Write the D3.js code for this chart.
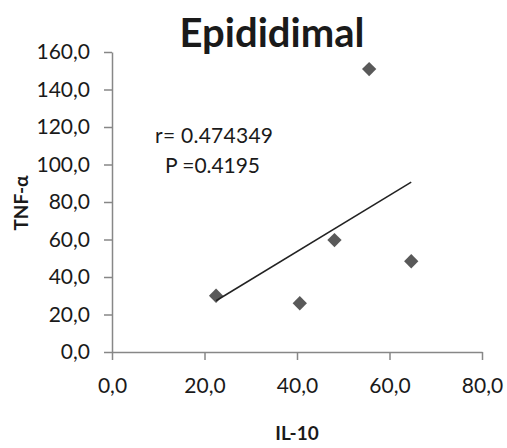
<!DOCTYPE html>
<html>
<head>
<meta charset="utf-8">
<script src="https://cdn.jsdelivr.net/npm/d3@7"></script>
<style>
  body { margin: 0; background: #fff; }
  text { font-family: Lato, "Open Sans", sans-serif; fill: #1a1a1a; }
</style>
</head>
<body>
<svg id="chart" width="507" height="448"></svg>
<script>
// IL-10 vs TNF-alpha, epididymal fat
var il10 = [22.5, 40.6, 48.1, 55.6, 64.7];
var tnf = [30.0, 26.0, 59.7, 150.9, 48.4];
var xTicks = [0, 20, 40, 60, 80];
var yTicks = [0, 20, 40, 60, 80, 100, 120, 140, 160];
var statLines = ['r= 0.474349', 'P =0.4195'];

var svg = d3.select('#chart');

var x = d3.scaleLinear().domain([0, 80]).range([112, 482]);
var y = d3.scaleLinear().domain([0, 160]).range([352, 52]);

var fmt = function(d) { return d.toFixed(1).replace('.', ','); };

svg.append('g')
  .attr('transform', 'translate(0,352)')
  .call(d3.axisBottom(x).tickValues(xTicks).tickFormat(fmt).tickSizeInner(8).tickSizeOuter(0).tickPadding(18));

svg.append('g')
  .attr('transform', 'translate(112,0)')
  .call(d3.axisLeft(y).tickValues(yTicks).tickFormat(fmt).tickSizeInner(8).tickSizeOuter(0).tickPadding(14));

svg.selectAll('.domain, .tick line')
  .attr('stroke', '#878787')
  .attr('stroke-width', 1.5);
svg.selectAll('.tick text')
  .attr('font-size', 21)
  .attr('fill', '#1a1a1a')
  .attr('font-family', 'Lato, sans-serif');

// least squares trend line
var mx = d3.mean(il10), my = d3.mean(tnf);
var sxy = d3.sum(il10, function(d, i) { return (d - mx) * (tnf[i] - my); });
var sxx = d3.sum(il10, function(d) { return (d - mx) * (d - mx); });
var slope = sxy / sxx, icpt = my - slope * mx;
var xr = d3.extent(il10);

svg.selectAll('path.pt')
  .data(il10)
  .enter()
  .append('path')
  .attr('class', 'pt')
  .attr('d', d3.symbol().type(d3.symbolDiamond2).size(130))
  .attr('transform', function(d, i) { return 'translate(' + x(d) + ',' + y(tnf[i]) + ')'; })
  .attr('fill', '#595959');

svg.append('line')
  .attr('x1', x(xr[0])).attr('y1', y(slope * xr[0] + icpt))
  .attr('x2', x(xr[1])).attr('y2', y(slope * xr[1] + icpt))
  .attr('stroke', '#222')
  .attr('stroke-width', 1.5);

svg.append('text')
  .attr('x', 155).attr('y', 143)
  .attr('font-size', 21)
  .attr('textLength', 118)
  .attr('lengthAdjust', 'spacing')
  .text(statLines[0]);
svg.append('text')
  .attr('x', 165).attr('y', 173)
  .attr('font-size', 21)
  .attr('textLength', 95)
  .attr('lengthAdjust', 'spacing')
  .text(statLines[1]);

svg.append('text')
  .attr('x', 272).attr('y', 47)
  .attr('text-anchor', 'middle')
  .attr('font-size', 40)
  .attr('font-weight', 'bold')
  .attr('fill', '#000')
  .text('Epididimal');

svg.append('text')
  .attr('x', 297).attr('y', 440)
  .attr('text-anchor', 'middle')
  .attr('font-size', 19)
  .attr('font-weight', 'bold')
  .text('IL-10');

svg.append('text')
  .attr('transform', 'translate(28,203) rotate(-90)')
  .attr('text-anchor', 'middle')
  .attr('font-size', 19)
  .attr('font-weight', 'bold')
  .text('TNF-α');
</script>
</body>
</html>
